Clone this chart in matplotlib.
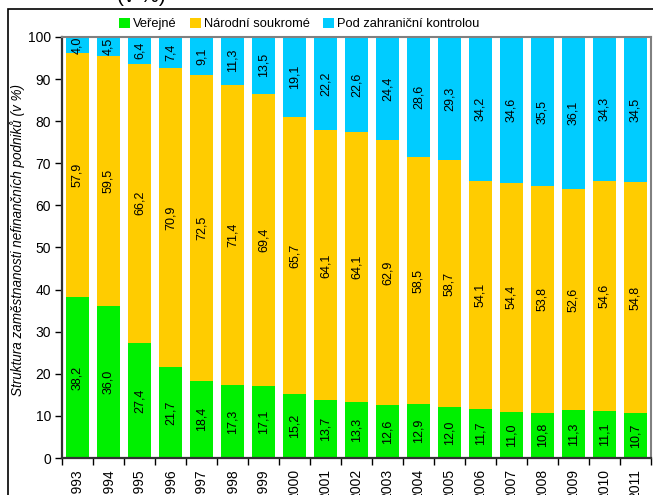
import matplotlib
matplotlib.use("Agg")
import matplotlib.pyplot as plt
import numpy as np
from matplotlib.patches import Rectangle

plt.rcParams['font.family'] = ['Liberation Sans', 'DejaVu Sans']

years = ['1993', '1994', '1995', '1996', '1997', '1998', '1999', '2000', '2001', '2002',
         '2003', '2004', '2005', '2006', '2007', '2008', '2009', '2010', '2011']
verejne = [38.2, 36.0, 27.4, 21.7, 18.4, 17.3, 17.1, 15.2, 13.7, 13.3,
           12.6, 12.9, 12.0, 11.7, 11.0, 10.8, 11.3, 11.1, 10.7]
narodni = [57.9, 59.5, 66.2, 70.9, 72.5, 71.4, 69.4, 65.7, 64.1, 64.1,
           62.9, 58.5, 58.7, 54.1, 54.4, 53.8, 52.6, 54.6, 54.8]
zahranicni = [4.0, 4.5, 6.4, 7.4, 9.1, 11.3, 13.5, 19.1, 22.2, 22.6,
              24.4, 28.6, 29.3, 34.2, 34.6, 35.5, 36.1, 34.3, 34.5]
series_names = ['Veřejné', 'Národní soukromé', 'Pod zahraniční kontrolou']
colors = ['#00F000', '#FFCC00', '#00CCFF']

W, H = 653, 495
fig = plt.figure(figsize=(W / 100, H / 100), dpi=100)
ax = fig.add_axes([62 / W, 1 - 458 / H, (651 - 62) / W, (458 - 37) / H])

x = np.arange(len(years))
bottom = np.zeros(len(years))
for vals, name, c in zip([verejne, narodni, zahranicni], series_names, colors):
    v = np.array(vals)
    ax.bar(x, v, width=0.74, bottom=bottom, color=c, label=name, zorder=2)
    for xi, b, val in zip(x, bottom, v):
        top = min(b + val, 100)
        yc = (b + top) / 2
        ax.text(xi, yc, f'{val:.1f}'.replace('.', ','), rotation=90,
                ha='center', va='center', fontsize=9, color='black', zorder=3)
    bottom = bottom + v

ax.set_xlim(-0.48, len(years) - 0.52)
ax.set_ylim(0, 100)
ax.set_yticks(np.arange(0, 101, 10))
ax.tick_params(axis='y', labelsize=10, length=5, width=1, direction='out', pad=3)
ax.set_xticks(x)
ax.set_xticklabels(years, rotation=90, fontsize=10)
ax.tick_params(axis='x', which='major', length=0, pad=8)
ax.set_xticks(np.arange(-0.5, len(years), 1), minor=True)
ax.tick_params(axis='x', which='minor', length=5, width=1, direction='out')

for s in ['left', 'bottom']:
    ax.spines[s].set_color('#333333')
    ax.spines[s].set_linewidth(1.6)
for s in ['top', 'right']:
    ax.spines[s].set_color('#808080')
    ax.spines[s].set_linewidth(1.5)

ax.set_ylabel('Struktura zaměstnanosti nefinančních podniků (v %)', fontsize=9.75,
              style='italic')
ax.yaxis.set_label_coords(-0.0635, 0.517)

fig.legend(loc='center', bbox_to_anchor=(299 / W, 1 - 24 / H), ncol=3,
           frameon=False, fontsize=9.3, handlelength=0.9, handleheight=0.9,
           handletextpad=0.2, columnspacing=1.0)

fig.text(117 / W, 1 - (-4) / H, '(v %)', fontsize=15, ha='left', va='center')

fig.patches.append(Rectangle((8 / W, -0.1), 1.2, 1 - 9 / H + 0.1, transform=fig.transFigure,
                             fill=False, edgecolor='black', linewidth=1.2, zorder=0))

fig.savefig('out.png', dpi=100)
